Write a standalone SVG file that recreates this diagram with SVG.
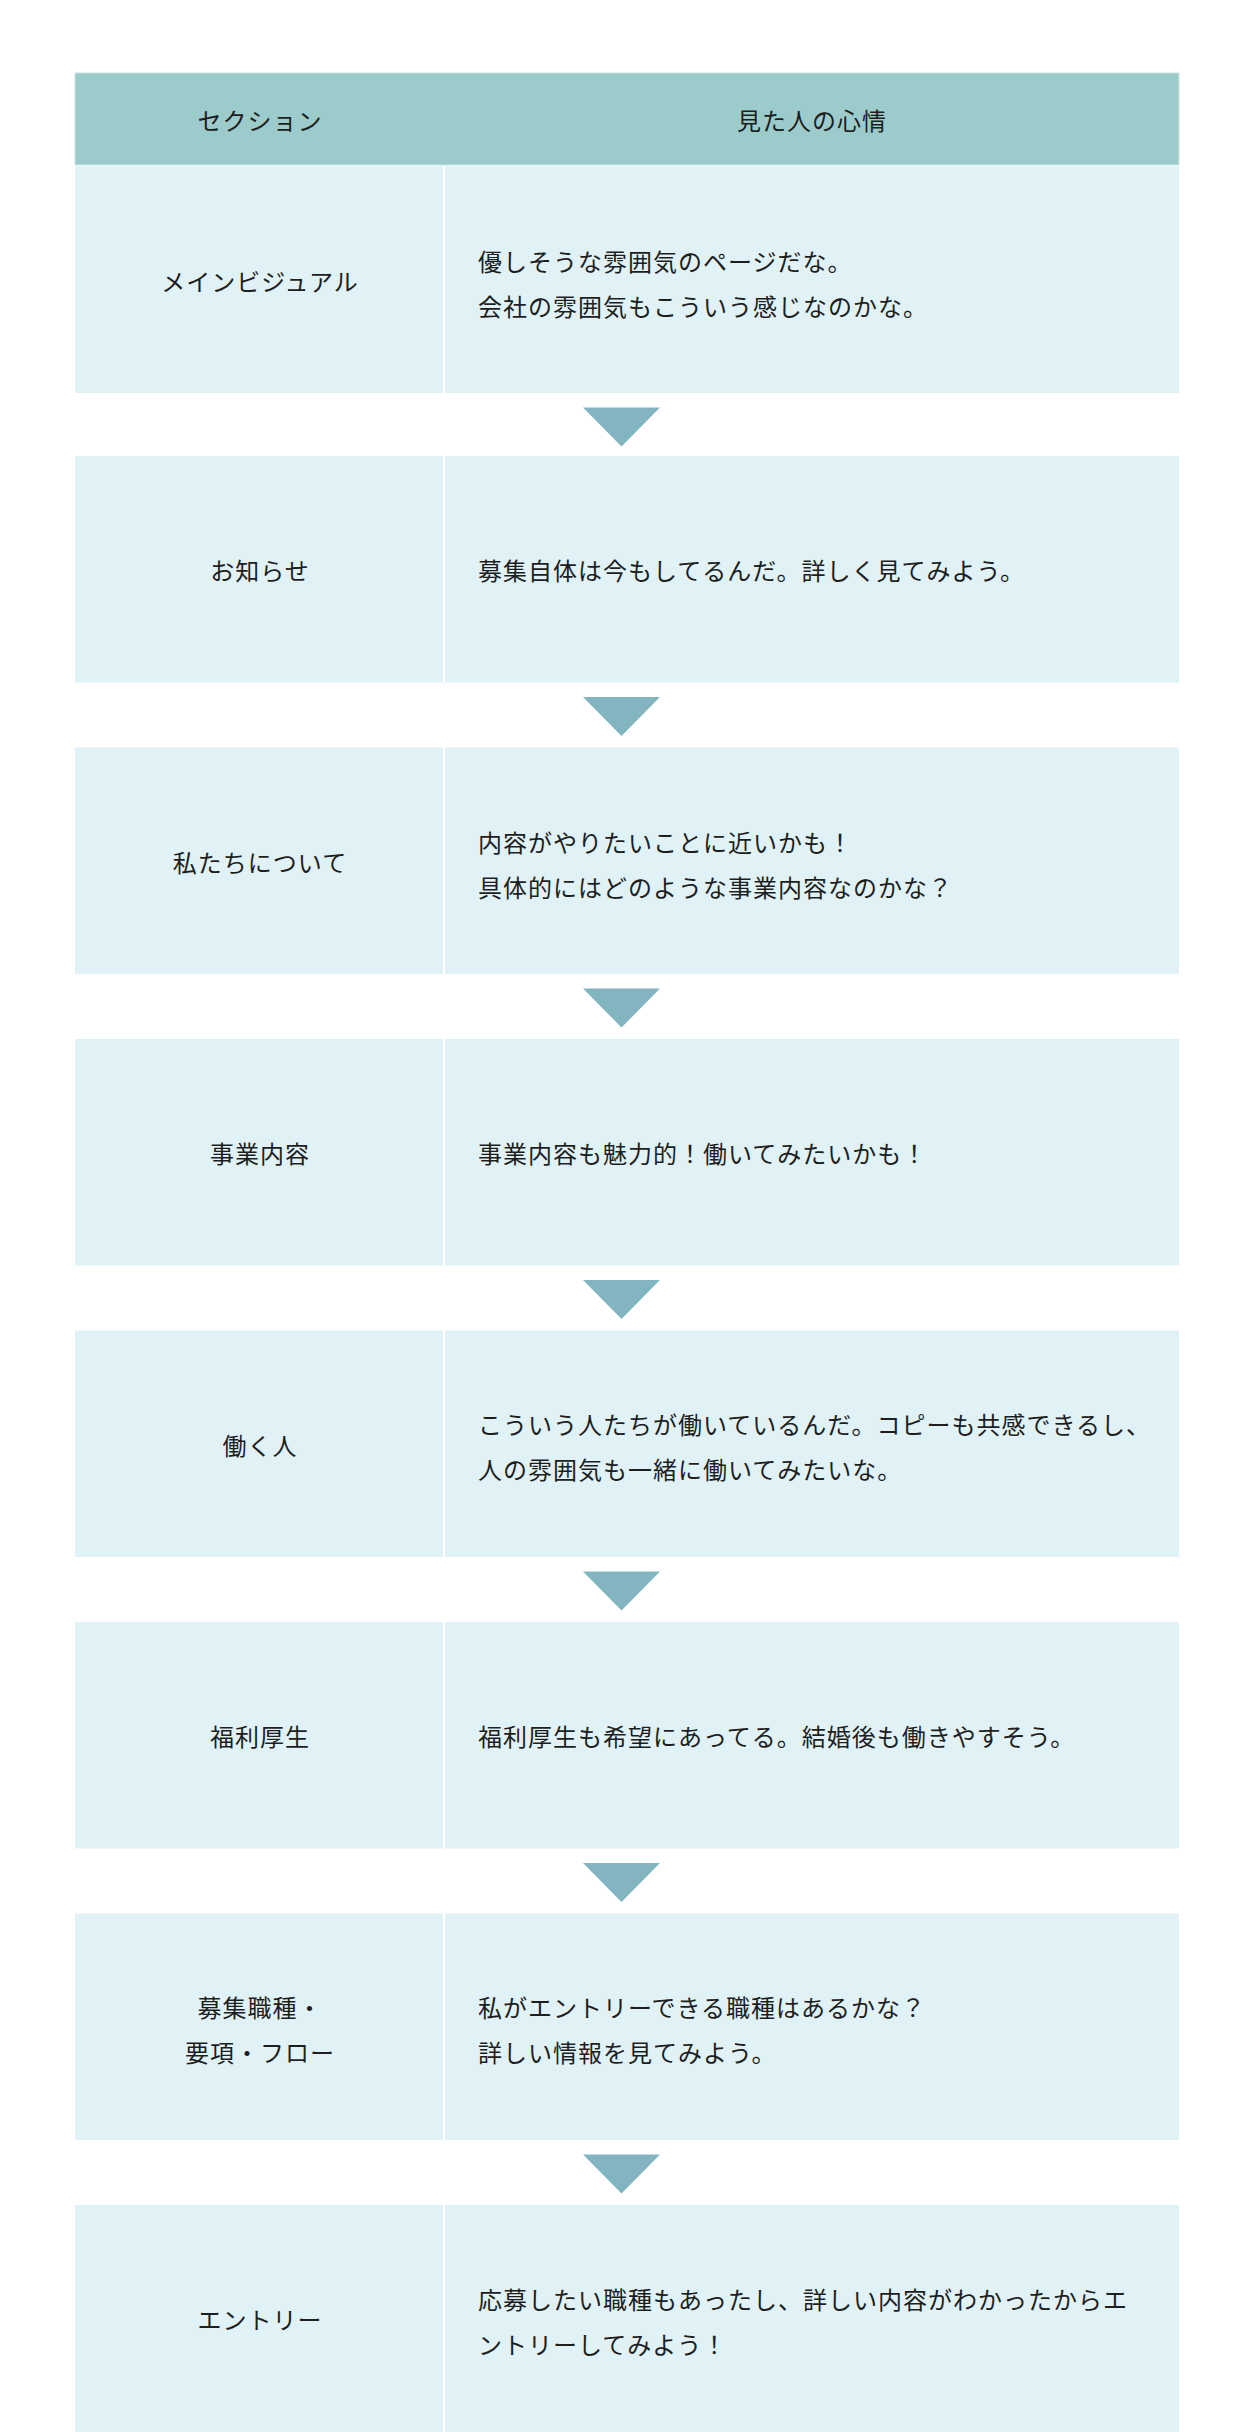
<svg xmlns="http://www.w3.org/2000/svg" width="1250" height="2432" viewBox="0 0 1250 2432">
<style>
  .hdr { fill: #9ccbcc; }
  .cell { fill: #e0f2f6; }
  .div { fill: #ffffff; }
  .tri { fill: #82b5bf; }
  text { font-family: "Noto Sans CJK JP", "Noto Sans", sans-serif; font-size: 24px; fill: #1e1e1e; letter-spacing: 1px; }
  .c { text-anchor: middle; }
</style>
<rect x="0" y="0" width="1250" height="2432" fill="#ffffff"/>
<g id="header">
  <rect class="hdr" x="75" y="73" width="1104" height="92" stroke="#c9e4e4" stroke-width="1"/>
  <text class="c" x="260" y="130">セクション</text>
  <text class="c" x="812" y="130">見た人の心情</text>
</g>
<g id="row1">
  <rect class="cell" x="75" y="166.5" width="1104" height="226.5"/>
  <rect class="div" x="443" y="166.5" width="2" height="226.5"/>
  <text class="c" x="260" y="291">メインビジュアル</text>
  <text x="478" y="271">優しそうな雰囲気のページだな。</text>
  <text x="478" y="316">会社の雰囲気もこういう感じなのかな。</text>
</g>
<g id="row2">
  <rect class="cell" x="75" y="456" width="1104" height="226.5"/>
  <rect class="div" x="443" y="456" width="2" height="226.5"/>
  <text class="c" x="260" y="580">お知らせ</text>
  <text x="478" y="580">募集自体は今もしてるんだ。詳しく見てみよう。</text>
</g>
<g id="row3">
  <rect class="cell" x="75" y="747.5" width="1104" height="226.5"/>
  <rect class="div" x="443" y="747.5" width="2" height="226.5"/>
  <text class="c" x="260" y="872">私たちについて</text>
  <text x="478" y="852">内容がやりたいことに近いかも！</text>
  <text x="478" y="897">具体的にはどのような事業内容なのかな？</text>
</g>
<g id="row4">
  <rect class="cell" x="75" y="1039" width="1104" height="226.5"/>
  <rect class="div" x="443" y="1039" width="2" height="226.5"/>
  <text class="c" x="260" y="1163">事業内容</text>
  <text x="478" y="1163">事業内容も魅力的！働いてみたいかも！</text>
</g>
<g id="row5">
  <rect class="cell" x="75" y="1330.5" width="1104" height="226.5"/>
  <rect class="div" x="443" y="1330.5" width="2" height="226.5"/>
  <text class="c" x="260" y="1455">働く人</text>
  <text x="478" y="1434">こういう人たちが働いているんだ。コピーも共感できるし、</text>
  <text x="478" y="1479">人の雰囲気も一緒に働いてみたいな。</text>
</g>
<g id="row6">
  <rect class="cell" x="75" y="1622" width="1104" height="226.5"/>
  <rect class="div" x="443" y="1622" width="2" height="226.5"/>
  <text class="c" x="260" y="1746">福利厚生</text>
  <text x="478" y="1746">福利厚生も希望にあってる。結婚後も働きやすそう。</text>
</g>
<g id="row7">
  <rect class="cell" x="75" y="1913.5" width="1104" height="226.5"/>
  <rect class="div" x="443" y="1913.5" width="2" height="226.5"/>
  <text class="c" x="260" y="2017">募集職種・</text>
  <text class="c" x="260" y="2062">要項・フロー</text>
  <text x="478" y="2017">私がエントリーできる職種はあるかな？</text>
  <text x="478" y="2062">詳しい情報を見てみよう。</text>
</g>
<g id="row8">
  <rect class="cell" x="75" y="2205" width="1104" height="227"/>
  <rect class="div" x="443" y="2205" width="2" height="227"/>
  <text class="c" x="260" y="2329">エントリー</text>
  <text x="478" y="2309">応募したい職種もあったし、詳しい内容がわかったからエ</text>
  <text x="478" y="2354">ントリーしてみよう！</text>
</g>
<g id="connectors">
  <polygon class="tri" points="583,407.5 660,407.5 621.5,446.5"/>
  <polygon class="tri" points="583,697 660,697 621.5,736"/>
  <polygon class="tri" points="583,988.5 660,988.5 621.5,1027.5"/>
  <polygon class="tri" points="583,1280 660,1280 621.5,1319"/>
  <polygon class="tri" points="583,1571.5 660,1571.5 621.5,1610.5"/>
  <polygon class="tri" points="583,1863 660,1863 621.5,1902"/>
  <polygon class="tri" points="583,2154.5 660,2154.5 621.5,2193.5"/>
</g>
</svg>
